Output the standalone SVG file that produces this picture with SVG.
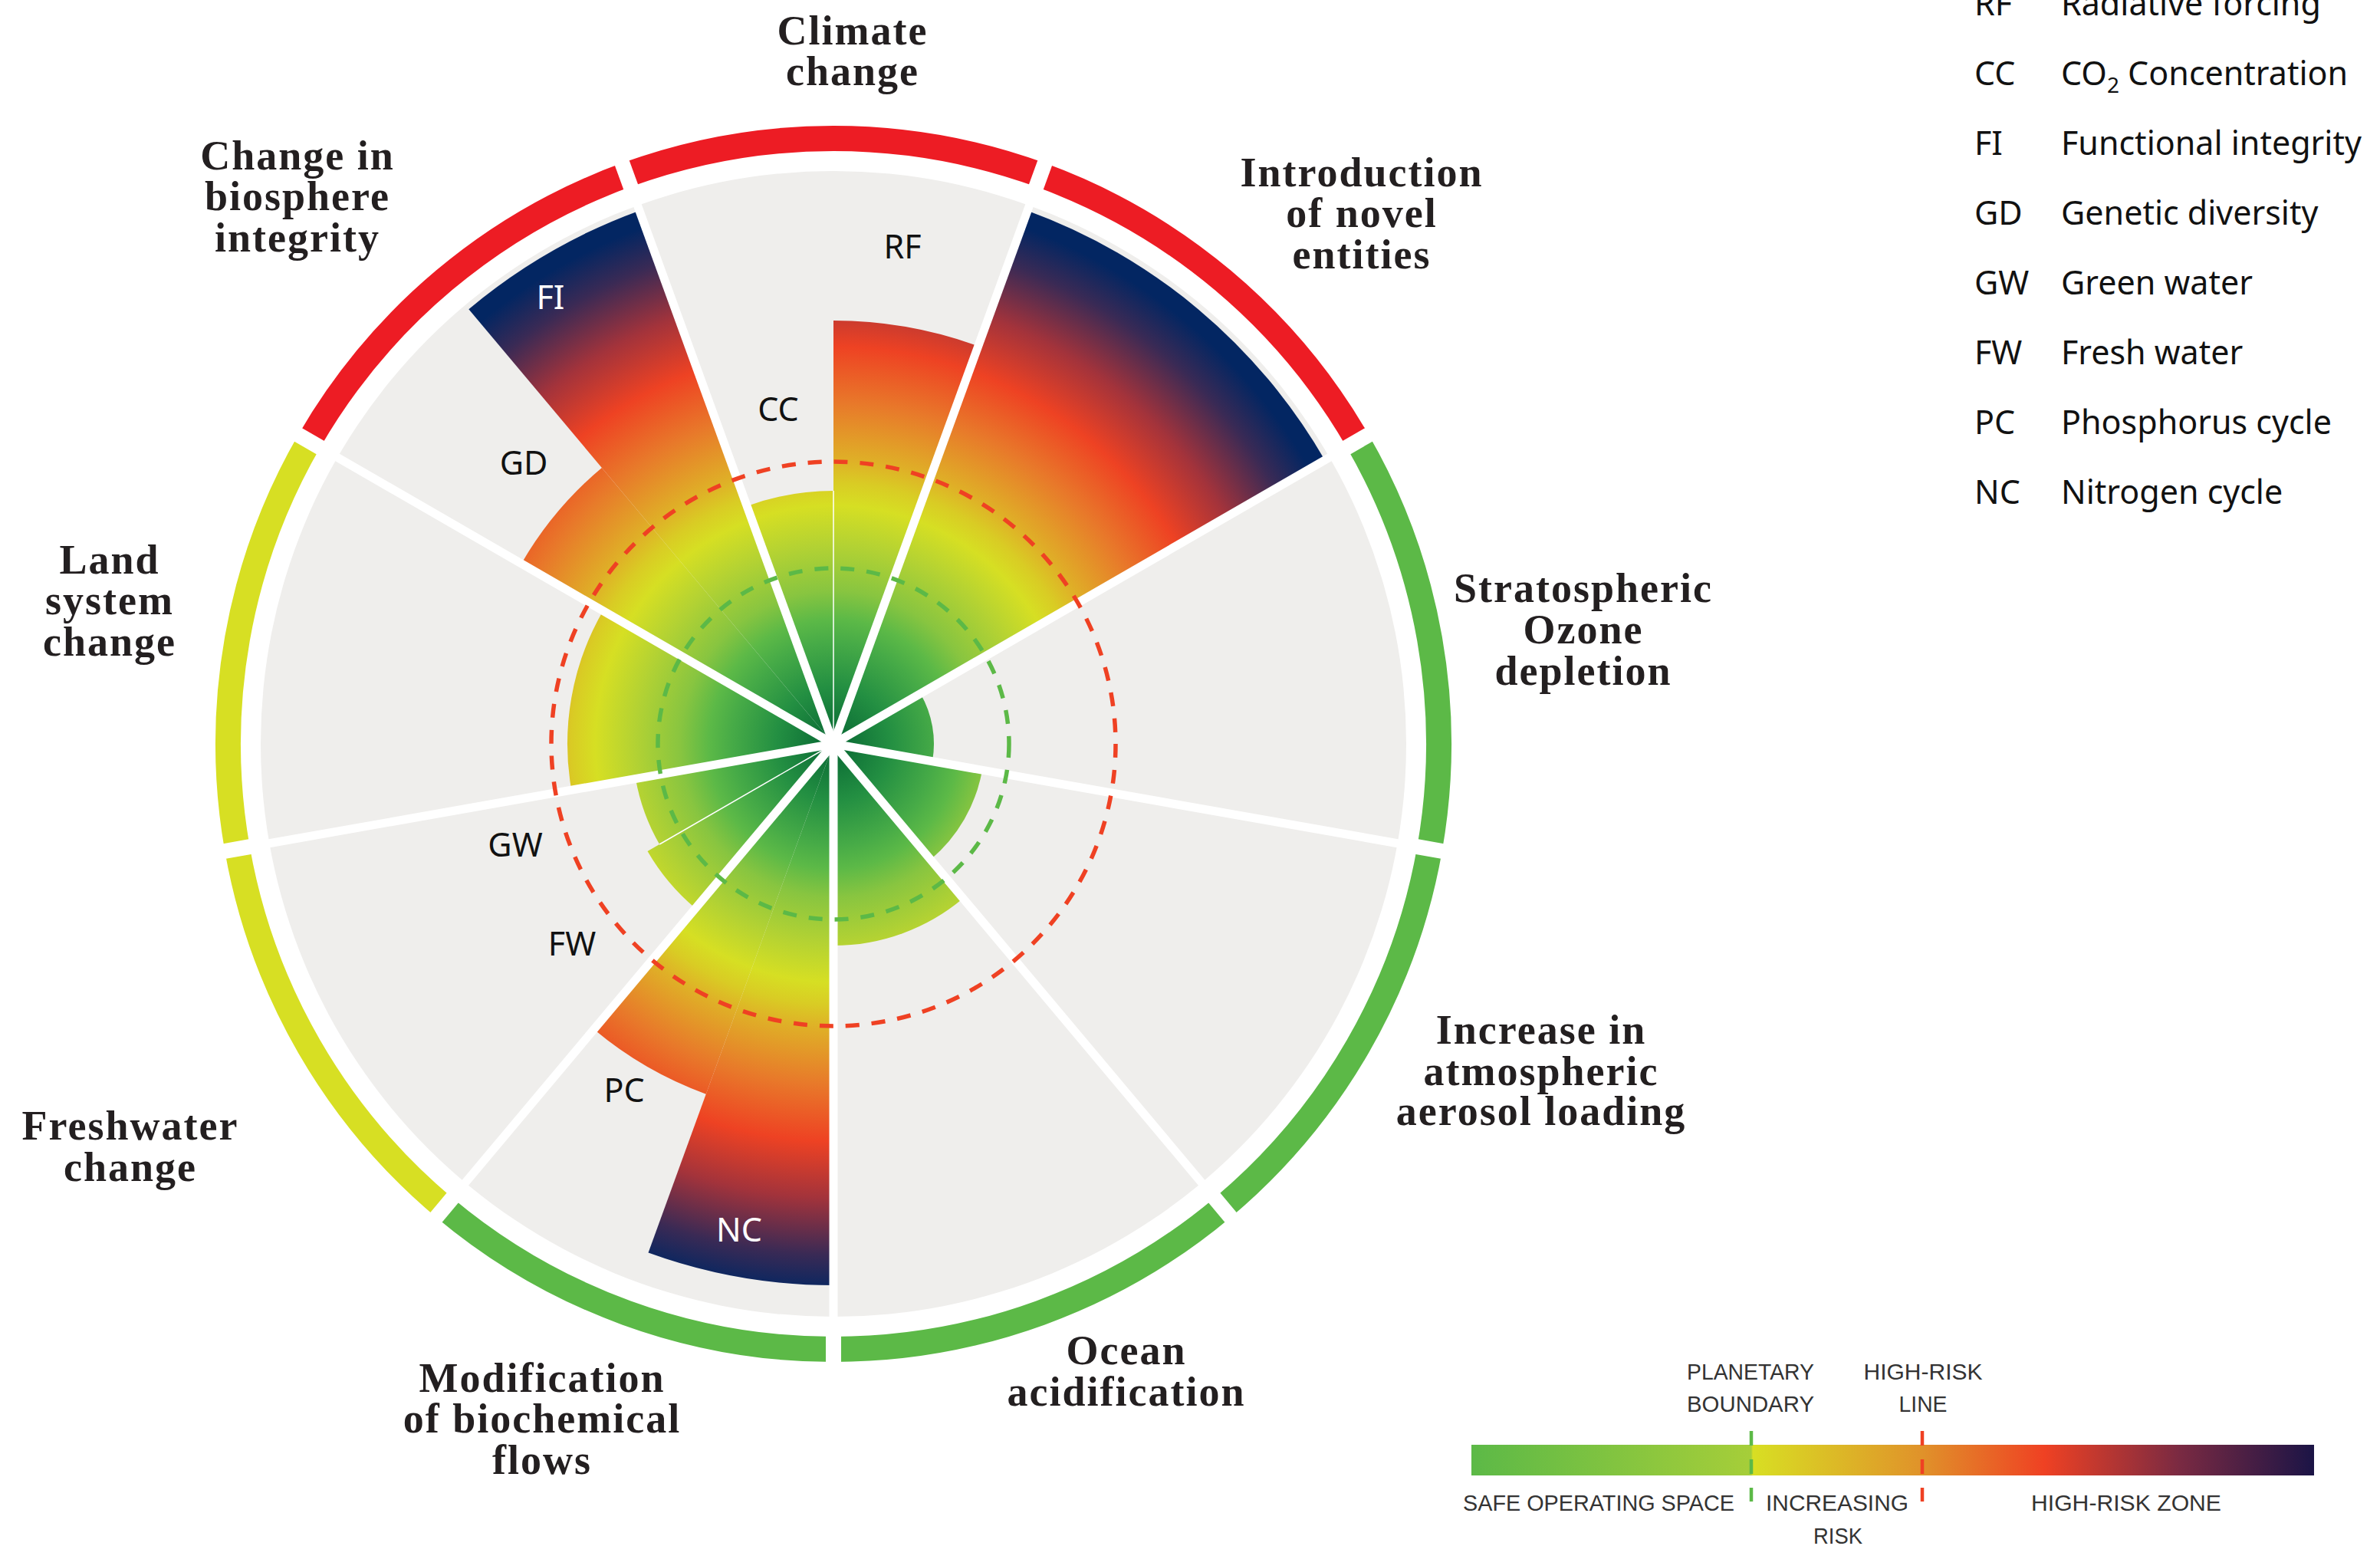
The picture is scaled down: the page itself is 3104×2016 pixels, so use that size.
<svg xmlns="http://www.w3.org/2000/svg" width="3104" height="2016" viewBox="0 0 3104 2016">
<style>
.ring{fill:none;stroke-width:33}
.r{stroke:#ed1c24}.g{stroke:#5cb947}.y{stroke:#d7df23}
.bar{fill:url(#risk)}
.title{font-family:"Liberation Serif",serif;font-weight:700;font-size:54px;letter-spacing:2px;fill:#231f20;text-anchor:middle}
.lbl{font-family:"Noto Sans","Liberation Sans",sans-serif;font-size:43px;fill:#111;text-anchor:middle}
.lblw{fill:#fff}
.leg{font-family:"Noto Sans","Liberation Sans",sans-serif;font-size:43px;fill:#111}
.sep{stroke:#fff;stroke-width:11}
.gap{stroke:#fff;stroke-width:20}
.thin{stroke:#fff;stroke-width:1.5}
.pb{fill:none;stroke:#5cb947;stroke-width:5.5;stroke-dasharray:18 16}
.hr{fill:none;stroke:#ef4123;stroke-width:5.5;stroke-dasharray:18 16}
.scale{font-family:"Liberation Sans Narrow","Liberation Sans",sans-serif;font-size:29px;fill:#333;text-anchor:middle}
</style>
<defs>
<radialGradient id="risk" gradientUnits="userSpaceOnUse" cx="1087" cy="970" r="740">
<stop offset="0" stop-color="#076633"/>
<stop offset="0.1" stop-color="#238f42"/>
<stop offset="0.18" stop-color="#47ab47"/>
<stop offset="0.22" stop-color="#5cb947"/>
<stop offset="0.27" stop-color="#88c540"/>
<stop offset="0.35" stop-color="#b3d233"/>
<stop offset="0.42" stop-color="#d6df23"/>
<stop offset="0.46" stop-color="#d9cc24"/>
<stop offset="0.5" stop-color="#dfb027"/>
<stop offset="0.6" stop-color="#e8792a"/>
<stop offset="0.7" stop-color="#ee4223"/>
<stop offset="0.8" stop-color="#a3333b"/>
<stop offset="0.9" stop-color="#3a2a55"/>
<stop offset="0.97" stop-color="#032662"/>
<stop offset="1" stop-color="#032662"/>
</radialGradient>
<linearGradient id="scaleGrad" x1="1919" y1="0" x2="3018" y2="0" gradientUnits="userSpaceOnUse">
<stop offset="0" stop-color="#5cb947"/>
<stop offset="0.332" stop-color="#a6ce39"/>
<stop offset="0.334" stop-color="#d8df23"/>
<stop offset="0.535" stop-color="#e0922a"/>
<stop offset="0.68" stop-color="#ef4123"/>
<stop offset="0.84" stop-color="#7a2a42"/>
<stop offset="1" stop-color="#1b1446"/>
</linearGradient>
</defs>
<rect width="3104" height="2016" fill="#fff"/>
<g id="disc"><circle cx="1087" cy="970" r="747" fill="#efeeec"/></g>

<g id="sector-climate-change">
<path class="ring r" d="M816.98,228.12 A789.5,789.5 0 0 1 1357.02,228.12"/>
<path class="bar" d="M1087,970 L974.13,659.9 A330,330 0 0 1 1087,640 Z"/>
<path class="bar" d="M1087,970 L1087,418 A552,552 0 0 1 1275.8,451.29 Z"/>
<text class="lbl" x="1177" y="337">RF</text>
<text class="lbl" x="1015" y="549">CC</text>
<text class="title"><tspan x="1112" y="58">Climate</tspan><tspan x="1112" y="111">change</tspan></text>
</g>

<g id="sector-novel-entities">
<path class="ring r" d="M1357.02,228.12 A789.5,789.5 0 0 1 1770.72,575.25"/>
<path class="bar" d="M1087,970 L1340.09,274.63 A740,740 0 0 1 1727.86,600 Z"/>
<text class="title"><tspan x="1776" y="243">Introduction</tspan><tspan x="1776" y="296">of novel</tspan><tspan x="1776" y="350">entities</tspan></text>
</g>

<g id="sector-ozone">
<path class="ring g" d="M1770.72,575.25 A789.5,789.5 0 0 1 1864.5,1107.1"/>
<path class="bar" d="M1087,970 L1200.45,904.5 A131,131 0 0 1 1216.01,992.75 Z"/>
<text class="title"><tspan x="2065" y="785">Stratospheric</tspan><tspan x="2065" y="839">Ozone</tspan><tspan x="2065" y="893">depletion</tspan></text>
</g>

<g id="sector-aerosol">
<path class="ring g" d="M1864.5,1107.1 A789.5,789.5 0 0 1 1594.48,1574.79"/>
<path class="bar" d="M1087,970 L1281.01,1004.21 A197,197 0 0 1 1213.63,1120.91 Z"/>
<text class="title"><tspan x="2010" y="1361">Increase in</tspan><tspan x="2010" y="1415">atmospheric</tspan><tspan x="2010" y="1467">aerosol loading</tspan></text>
</g>

<g id="sector-ocean">
<path class="ring g" d="M1594.48,1574.79 A789.5,789.5 0 0 1 1087,1759.5"/>
<path class="bar" d="M1087,970 L1256.05,1171.47 A263,263 0 0 1 1087,1233 Z"/>
<text class="title"><tspan x="1469" y="1779">Ocean</tspan><tspan x="1469" y="1833">acidification</tspan></text>
</g>

<g id="sector-biochemical">
<path class="ring g" d="M1087,1759.5 A789.5,789.5 0 0 1 579.52,1574.79"/>
<path class="bar" d="M1087,970 L1087,1676 A706,706 0 0 1 845.53,1633.42 Z"/>
<path class="bar" d="M1087,970 L920.78,1426.69 A486,486 0 0 1 774.6,1342.3 Z"/>
<text class="lbl" x="814" y="1437">PC</text>
<text class="lbl lblw" x="964" y="1619">NC</text>
<text class="title"><tspan x="707" y="1815">Modification</tspan><tspan x="707" y="1868">of biochemical</tspan><tspan x="707" y="1922">flows</tspan></text>
</g>

<g id="sector-freshwater">
<path class="ring y" d="M579.52,1574.79 A789.5,789.5 0 0 1 309.5,1107.1"/>
<path class="bar" d="M1087,970 L907.02,1184.49 A280,280 0 0 1 844.51,1110 Z"/>
<path class="bar" d="M1087,970 L860.1,1101 A262,262 0 0 1 828.98,1015.5 Z"/>
<text class="lbl" x="672" y="1117">GW</text>
<text class="lbl" x="746" y="1246">FW</text>
<text class="title"><tspan x="170" y="1486">Freshwater</tspan><tspan x="170" y="1540">change</tspan></text>
</g>

<g id="sector-land">
<path class="ring y" d="M309.5,1107.1 A789.5,789.5 0 0 1 403.28,575.25"/>
<path class="bar" d="M1087,970 L745.27,1030.26 A347,347 0 0 1 786.49,796.5 Z"/>
<text class="title"><tspan x="143" y="748">Land</tspan><tspan x="143" y="801">system</tspan><tspan x="143" y="855">change</tspan></text>
</g>

<g id="sector-biosphere">
<path class="ring r" d="M403.28,575.25 A789.5,789.5 0 0 1 816.98,228.12"/>
<path class="bar" d="M1087,970 L679.97,735 A470,470 0 0 1 784.89,609.96 Z"/>
<path class="bar" d="M1087,970 L611.34,403.13 A740,740 0 0 1 833.91,274.63 Z"/>
<text class="lbl lblw" x="718" y="403">FI</text>
<text class="lbl" x="683" y="619">GD</text>
<text class="title"><tspan x="388" y="221">Change in</tspan><tspan x="388" y="274">biosphere</tspan><tspan x="388" y="328">integrity</tspan></text>
</g>

<g id="separators">
<line class="sep" x1="1087" y1="970" x2="1346.94" y2="255.84"/>
<line class="sep" x1="1087" y1="970" x2="1745.18" y2="590"/>
<line class="sep" x1="1087" y1="970" x2="1835.46" y2="1101.97"/>
<line class="sep" x1="1087" y1="970" x2="1575.52" y2="1552.19"/>
<line class="sep" x1="1087" y1="970" x2="1087" y2="1730"/>
<line class="sep" x1="1087" y1="970" x2="598.48" y2="1552.19"/>
<line class="sep" x1="1087" y1="970" x2="338.54" y2="1101.97"/>
<line class="sep" x1="1087" y1="970" x2="428.82" y2="590"/>
<line class="sep" x1="1087" y1="970" x2="827.06" y2="255.84"/>
<line class="gap" x1="1346.94" y1="255.84" x2="1365.75" y2="204.15"/>
<line class="gap" x1="1745.18" y1="590" x2="1792.81" y2="562.5"/>
<line class="gap" x1="1835.46" y1="1101.97" x2="1889.62" y2="1111.52"/>
<line class="gap" x1="1575.52" y1="1552.19" x2="1610.87" y2="1594.32"/>
<line class="gap" x1="1087" y1="1730" x2="1087" y2="1785"/>
<line class="gap" x1="598.48" y1="1552.19" x2="563.13" y2="1594.32"/>
<line class="gap" x1="338.54" y1="1101.97" x2="284.38" y2="1111.52"/>
<line class="gap" x1="428.82" y1="590" x2="381.19" y2="562.5"/>
<line class="gap" x1="827.06" y1="255.84" x2="808.25" y2="204.15"/>
<line class="thin" x1="1087" y1="970" x2="1087" y2="640"/>
<line class="thin" x1="1087" y1="970" x2="860.1" y2="1101"/>
</g>

<g id="thresholds">
<circle class="pb" cx="1087" cy="970" r="229"/>
<circle class="hr" cx="1087" cy="970" r="368"/>
</g>

<g id="legend-abbreviations" class="leg">
<text x="2575" y="20">RF</text><text x="2688" y="20">Radiative forcing</text>
<text x="2575" y="111">CC</text><text x="2688" y="111">CO<tspan font-size="28" dy="10">2</tspan><tspan dy="-10"> Concentration</tspan></text>
<text x="2575" y="202">FI</text><text x="2688" y="202">Functional integrity</text>
<text x="2575" y="293">GD</text><text x="2688" y="293">Genetic diversity</text>
<text x="2575" y="384">GW</text><text x="2688" y="384">Green water</text>
<text x="2575" y="475">FW</text><text x="2688" y="475">Fresh water</text>
<text x="2575" y="566">PC</text><text x="2688" y="566">Phosphorus cycle</text>
<text x="2575" y="657">NC</text><text x="2688" y="657">Nitrogen cycle</text>
</g>

<g id="legend-scale">
<rect x="1919" y="1884" width="1099" height="40" fill="url(#scaleGrad)"/>
<line x1="2284" y1="1866" x2="2284" y2="1958" stroke="#5cb947" stroke-width="4.5" stroke-dasharray="19 18"/>
<line x1="2507" y1="1866" x2="2507" y2="1958" stroke="#ef4123" stroke-width="4.5" stroke-dasharray="19 18"/>
<text class="scale" x="2283" y="1799" textLength="166" lengthAdjust="spacingAndGlyphs">PLANETARY</text>
<text class="scale" x="2283" y="1841" textLength="166" lengthAdjust="spacingAndGlyphs">BOUNDARY</text>
<text class="scale" x="2508" y="1799" textLength="155" lengthAdjust="spacingAndGlyphs">HIGH-RISK</text>
<text class="scale" x="2508" y="1841" textLength="63" lengthAdjust="spacingAndGlyphs">LINE</text>
<text class="scale" x="2085" y="1970" textLength="354" lengthAdjust="spacingAndGlyphs">SAFE OPERATING SPACE</text>
<text class="scale" x="2396" y="1970" textLength="186" lengthAdjust="spacingAndGlyphs">INCREASING</text>
<text class="scale" x="2397" y="2013" textLength="64" lengthAdjust="spacingAndGlyphs">RISK</text>
<text class="scale" x="2773" y="1970" textLength="248" lengthAdjust="spacingAndGlyphs">HIGH-RISK ZONE</text>
</g>
</svg>
